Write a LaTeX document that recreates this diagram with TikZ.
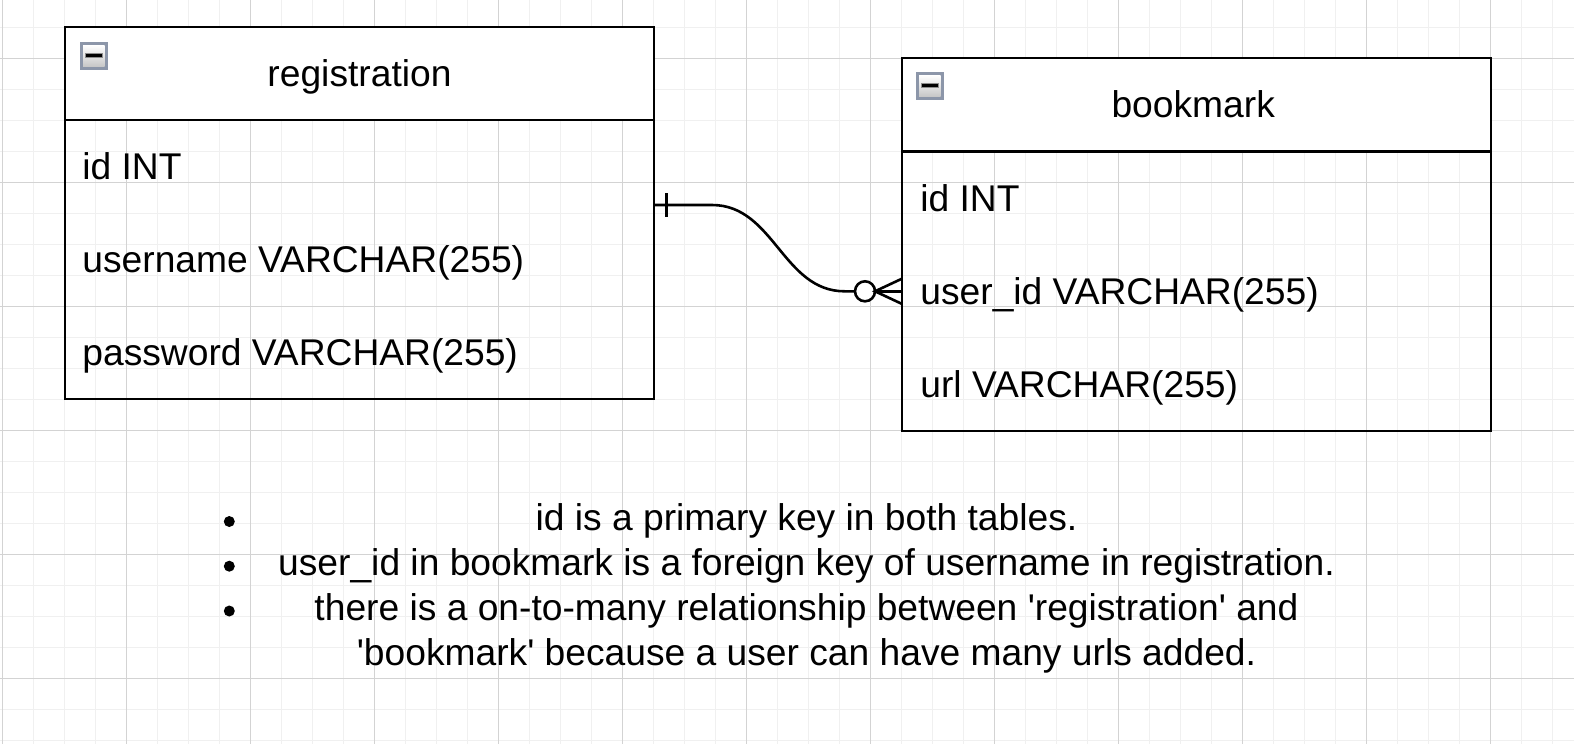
\documentclass[tikz,border=0pt]{standalone}
\usepackage{fontspec}
\setmainfont{Liberation Sans}[Ligatures=TeXOff]
\usetikzlibrary{calc}
\definecolor{gridfine}{HTML}{F0F0F0}
\definecolor{gridmajor}{HTML}{D3D3D3}
\definecolor{iconborder}{HTML}{8C96A9}
\begin{document}
\begin{tikzpicture}[x=0.5pt,y=-0.5pt,
  fineline/.style={draw=gridfine,line width=0.65pt},
  majorline/.style={draw=gridmajor,line width=0.6pt},
  tblhead/.style={draw=black,fill=white,line width=1.1pt,rectangle,inner sep=0pt,outer sep=0pt,anchor=north west,minimum width=294.5pt,minimum height=46.5pt},
  tblbody/.style={draw=black,line width=1.1pt,rectangle,inner sep=0pt,outer sep=0pt,anchor=north west,minimum width=294.5pt,minimum height=139.6pt},
  txt/.style={font=\fontsize{18.6}{22}\selectfont,inner sep=0pt,anchor=base west},
  ctxt/.style={font=\fontsize{18.6}{22}\selectfont,inner sep=0pt,anchor=base},
  conn/.style={draw=black,line width=1.3pt},
  bulletdot/.style={circle,fill=black,inner sep=0pt,minimum size=5.5pt},
  minusicon/.pic={
    \fill[iconborder] (0,0) rectangle (27.5,27.5);
    \shade[top color=white,bottom color=black!22] (3,3) rectangle (24.5,24.5);
    \fill[black!45] (4.5,11.2) rectangle (23,16.3);
    \fill[black] (5.5,12.2) rectangle (22,15.3);
  }]
\useasboundingbox (0,0) rectangle (1574,744);
\fill[white] (0,0) rectangle (1574,744);
% grid
\foreach \k in {0,...,50} \draw[fineline] ({2.7+31*\k},0) -- ({2.7+31*\k},744);
\foreach \k in {1,...,24} \draw[fineline] (0,{-3.3+31*\k}) -- (1574,{-3.3+31*\k});
\foreach \k in {0,...,12} \draw[majorline] ({2.7+124*\k},0) -- ({2.7+124*\k},744);
\foreach \k in {0,...,5} \draw[majorline] (0,{58.7+124*\k}) -- (1574,{58.7+124*\k});

% registration table
\node[tblhead] (reghead) at (65,27.3) {};
\node[tblbody] (regbody) at (65,120) {};
\pic at (80,42) {minusicon};
\node[ctxt] (regtitle) at ($(reghead.center)+(0,13)$) {registration};
\node[txt] (regid) at (82,179.5) {id INT};
\node[txt] (reguser) at (82,272.5) {username VARCHAR(255)};
\node[txt] (regpass) at (82,365.5) {password VARCHAR(255)};

% bookmark table
\node[tblhead] (bmhead) at (901.7,58.3) {};
\node[tblbody] (bmbody) at (901.7,151.7) {};
\pic at (916,72) {minusicon};
\node[ctxt] (bmtitle) at ($(bmhead.center)+(-3,13)$) {bookmark};
\node[txt] (bmid) at (920,211.2) {id INT};
\node[txt] (bmuser) at (920,304.2) {user\_id VARCHAR(255)};
\node[txt] (bmurl) at (920,397.2) {url VARCHAR(255)};

% connector
\coordinate (cstart) at ($(regbody.north east)+(0,85)$);
\draw[conn] (cstart) -- ($(cstart)+(58,0)$)
  .. controls ($(cstart)+(120,0)$) and ($(bmbody.west)+(-119,0)$) .. ($(bmbody.west)+(-57,0)$)
  -- ($(bmbody.west)+(-46.7,0)$);
\draw[conn] ($(cstart)+(12.7,-12)$) -- ($(cstart)+(12.7,12)$);
\draw[conn,fill=white] ($(bmbody.west)+(-36.7,0)$) circle [radius=5pt];
\draw[conn] ($(bmbody.west)+(0,-12.5)$) -- ($(bmbody.west)+(-26.7,0)$) -- ($(bmbody.west)+(0,12.5)$);
\draw[conn] ($(bmbody.west)+(-26.7,0)$) -- (bmbody.west);

% notes
\node[bulletdot] (d1) at (229.3,521.5) {};
\node[bulletdot] (d2) at (229.3,566.2) {};
\node[bulletdot] (d3) at (229.3,611) {};
\node[ctxt] (n1) at (806.5,530.7) {id is a primary key in both tables.};
\node[ctxt] (n2) at (806.5,575.7) {user\_id in bookmark is a foreign key of username in registration.};
\node[ctxt] (n3) at (806.5,620.7) {there is a on-to-many relationship between 'registration' and};
\node[ctxt] (n4) at (806.5,665.7) {'bookmark' because a user can have many urls added.};
\end{tikzpicture}
\end{document}
